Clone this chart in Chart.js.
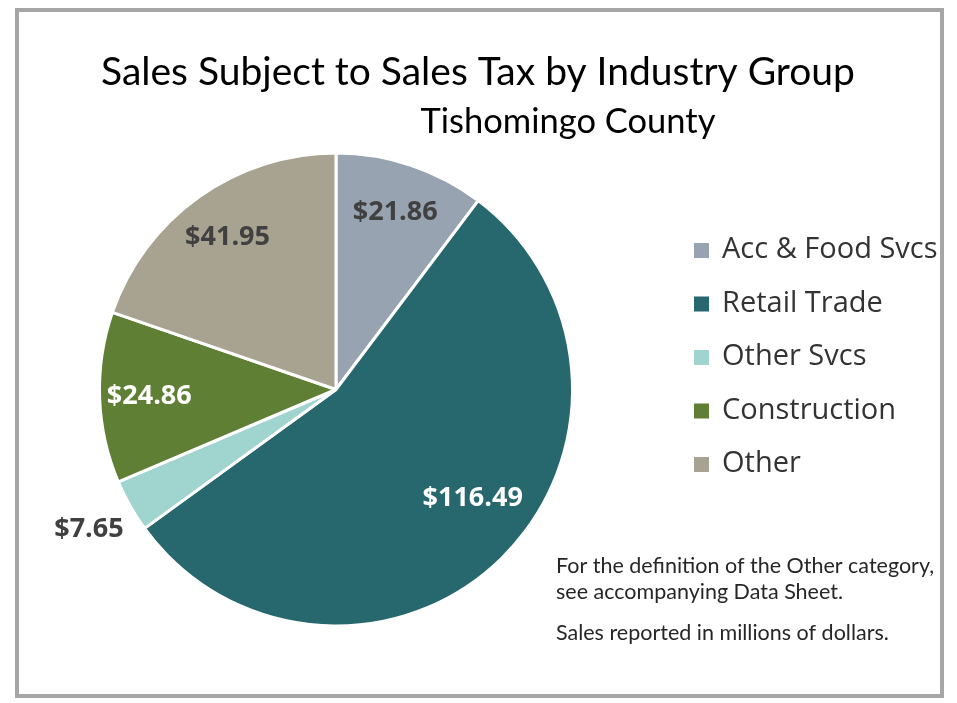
<!DOCTYPE html>
<html>
<head>
<meta charset="utf-8">
<script src="https://cdn.jsdelivr.net/npm/chart.js@4.4.0/dist/chart.umd.min.js"></script>
<style>
  html, body { margin: 0; padding: 0; background: #ffffff; }
  #wrap { position: relative; width: 957px; height: 703px; overflow: hidden; }
  #frame { position: absolute; left: 15px; top: 8px; width: 921px; height: 682px; border: 4px solid #a6a6a6; }
  canvas { position: absolute; left: 0; top: 0; }
</style>
</head>
<body>
<div id="wrap">
  <canvas id="pieChart" width="957" height="703"></canvas>
  <div id="frame"></div>
</div>
<script>
// data
const categories = ['Acc & Food Svcs', 'Retail Trade', 'Other Svcs', 'Construction', 'Other'];
const sales = [21.86, 116.49, 7.65, 24.86, 41.95];
const sliceColors = ['#97a3b0', '#26686d', '#9fd4cf', '#5f7f35', '#a8a290'];
const labelColors = ['#404040', '#ffffff', '#404040', '#ffffff', '#404040'];
const titleText = 'Sales Subject to Sales Tax by Industry Group';
const subtitleText = 'Tishomingo County';
const notes = ['For the definition of the Other category,', 'see accompanying Data Sheet.', 'Sales reported in millions of dollars.'];

document.addEventListener('DOMContentLoaded', function() {
    // labels on the slices, small slices go outside
    const sliceLabels = {
        id: 'sliceLabels',
        afterDatasetsDraw(chart) {
            const ctx = chart.ctx;
            const meta = chart.getDatasetMeta(0);
            const total = sales.reduce((a, b) => a + b, 0);
            ctx.save();
            ctx.font = 'bold 27px "Open Sans"';
            ctx.textAlign = 'center';
            ctx.textBaseline = 'middle';
            meta.data.forEach(function(arc, i) {
                const p = arc.getProps(['x', 'y', 'startAngle', 'endAngle', 'outerRadius'], true);
                let mid = (p.startAngle + p.endAngle) / 2;
                const share = sales[i] / total;
                let r = p.outerRadius * (share < 0.05 ? 1.2 : 0.79);
                // big slice: excel pulls the label up a bit
                if (share > 0.5) { mid -= 0.12; r = p.outerRadius * 0.74; }
                ctx.fillStyle = labelColors[i];
                ctx.fillText('$' + sales[i].toFixed(2), p.x + Math.cos(mid) * r, p.y + Math.sin(mid) * r);
            });
            ctx.restore();
        }
    };

    // titles, legend and notes
    const extras = {
        id: 'extras',
        afterDraw(chart) {
            const ctx = chart.ctx;
            ctx.save();
            ctx.fillStyle = '#000000';
            ctx.textAlign = 'center';
            ctx.textBaseline = 'alphabetic';
            ctx.font = '39px Lato';
            ctx.fillText(titleText, 478, 85);
            ctx.font = '34.5px Lato';
            ctx.fillText(subtitleText, 568, 133);

            ctx.textAlign = 'left';
            ctx.textBaseline = 'middle';
            ctx.font = '29px "Open Sans"';
            categories.forEach(function(name, i) {
                const y = 250 + i * 53.5;
                ctx.fillStyle = sliceColors[i];
                ctx.fillRect(694, y - 7, 15, 15);
                ctx.fillStyle = '#333333';
                ctx.fillText(name, 722, y);
            });

            ctx.textBaseline = 'alphabetic';
            ctx.font = '21.5px Lato';
            ctx.fillStyle = '#262626';
            ctx.fillText(notes[0], 556, 573);
            ctx.fillText(notes[1], 556, 599);
            ctx.fillText(notes[2], 556, 640);
            ctx.restore();
        }
    };

    const ctx = document.getElementById('pieChart').getContext('2d');
    new Chart(ctx, {
        type: 'pie',
        data: {
            labels: categories,
            datasets: [{
                data: sales,
                backgroundColor: sliceColors,
                borderColor: '#ffffff',
                borderWidth: 3
            }]
        },
        options: {
            responsive: false,
            animation: false,
            layout: { padding: { left: 98, right: 383, top: 150, bottom: 74 } },
            plugins: {
                legend: { display: false },
                tooltip: { enabled: false }
            }
        },
        plugins: [sliceLabels, extras]
    });
});
</script>
</body>
</html>
